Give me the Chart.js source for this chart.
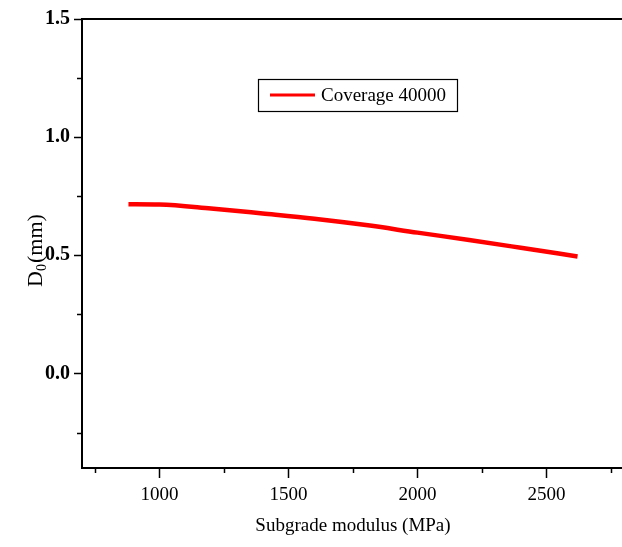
<!DOCTYPE html>
<html>
<head>
<meta charset="utf-8">
<script src="https://cdn.jsdelivr.net/npm/chart.js@4.4.1/dist/chart.umd.min.js"></script>
<style>
  html, body { margin: 0; padding: 0; background: #fff; overflow: hidden; }
  canvas { display: block; }
</style>
</head>
<body>
<canvas id="c" width="630" height="547"></canvas>
<script>
const modulus = [880, 1000, 1200, 1400, 1600, 1800, 2000, 2200, 2400, 2620];
const deflection = [0.716, 0.715, 0.698, 0.677, 0.655, 0.628, 0.596, 0.565, 0.532, 0.495];
const seriesName = 'Coverage 40000';
const xTicks = [750, 1000, 1250, 1500, 1750, 2000, 2250, 2500, 2750];
const yTicks = [-0.25, 0, 0.25, 0.5, 0.75, 1.0, 1.25, 1.5];

const serif = '"Liberation Serif", "Times New Roman", serif';

// minor ticks, frame, legend box and y title
const extras = {
    id: 'extras',
    afterDraw(chart) {
        const c = chart.ctx, a = chart.chartArea;
        const x = chart.scales.x, y = chart.scales.y;
        c.save();
        c.strokeStyle = '#000';
        c.lineWidth = 2;
        c.beginPath();
        c.moveTo(a.left, a.top); c.lineTo(a.right, a.top); c.lineTo(a.right, a.bottom);
        c.stroke();
        c.lineWidth = 1.5;
        xTicks.filter(v => v % 500 !== 0).forEach(v => {
            const px = Math.round(x.getPixelForValue(v)) + 0.5;
            c.beginPath(); c.moveTo(px, a.bottom); c.lineTo(px, a.bottom + 5); c.stroke();
        });
        yTicks.filter(v => Math.abs(v * 2 - Math.round(v * 2)) > 0.01).forEach(v => {
            const py = Math.round(y.getPixelForValue(v)) + 0.5;
            c.beginPath(); c.moveTo(a.left, py); c.lineTo(a.left - 5, py); c.stroke();
        });

        // legend
        c.lineWidth = 1.2;
        c.strokeRect(258.5, 79.5, 199, 32);
        c.strokeStyle = chart.data.datasets[0].borderColor;
        c.lineWidth = 3;
        c.beginPath(); c.moveTo(270, 95); c.lineTo(315, 95); c.stroke();
        c.fillStyle = '#000';
        c.font = '19px ' + serif;
        c.textBaseline = 'middle';
        c.textAlign = 'left';
        c.fillText(chart.data.datasets[0].label, 321, 96);

        // y axis title with subscript
        c.translate(34, 251);
        c.rotate(-Math.PI / 2);
        c.font = '22px ' + serif;
        const wD = c.measureText('D').width;
        c.font = '14px ' + serif;
        const w0 = c.measureText('0').width;
        c.font = '22px ' + serif;
        const wR = c.measureText('(mm)').width;
        let sx = -(wD + w0 + wR) / 2;
        c.textBaseline = 'alphabetic';
        c.fillText('D', sx, 8);
        c.font = '14px ' + serif;
        c.fillText('0', sx + wD, 12);
        c.font = '22px ' + serif;
        c.fillText('(mm)', sx + wD + w0 + 1, 8);
        c.restore();
    }
};

new Chart(document.getElementById('c'), {
    type: 'line',
    data: {
        datasets: [{
            label: seriesName,
            data: modulus.map((m, i) => ({ x: m, y: deflection[i] })),
            borderColor: '#ff0000',
            borderWidth: 4.5,
            pointRadius: 0,
            tension: 0.4,
            cubicInterpolationMode: 'monotone'
        }]
    },
    options: {
        responsive: false,
        animation: false,
        devicePixelRatio: 1,
        layout: { padding: { top: 19, right: 6, left: 0, bottom: 0 } },
        plugins: { legend: { display: false }, tooltip: { enabled: false } },
        scales: {
            x: {
                type: 'linear',
                min: 700,
                max: 2800,
                afterFit: s => { s.height = 79; },
                afterBuildTicks: s => { s.ticks = xTicks.map(v => ({ value: v })); },
                border: { color: '#000', width: 2 },
                grid: {
                    drawOnChartArea: false,
                    tickLength: 10,
                    tickWidth: 1.5,
                    tickColor: ctx => (ctx.tick && ctx.tick.value % 500 === 0) ? '#000' : 'rgba(0,0,0,0)'
                },
                ticks: {
                    autoSkip: false,
                    maxRotation: 0,
                    padding: 6,
                    color: '#000',
                    font: { family: serif, size: 19 },
                    callback: v => v % 500 === 0 ? String(v) : ''
                },
                title: {
                    display: true,
                    text: 'Subgrade modulus (MPa)',
                    color: '#000',
                    font: { family: serif, size: 19 },
                    padding: { top: 0, bottom: 10 }
                }
            },
            y: {
                type: 'linear',
                min: -0.4,
                max: 1.5,
                afterFit: s => { s.width = 82; },
                afterBuildTicks: s => { s.ticks = yTicks.map(v => ({ value: v })); },
                border: { color: '#000', width: 2 },
                grid: {
                    drawOnChartArea: false,
                    tickLength: 8,
                    tickWidth: 1.5,
                    tickColor: ctx => (ctx.tick && Math.abs(ctx.tick.value * 2 - Math.round(ctx.tick.value * 2)) < 0.01) ? '#000' : 'rgba(0,0,0,0)'
                },
                ticks: {
                    autoSkip: false,
                    padding: 4,
                    color: '#000',
                    font: { family: serif, size: 20, weight: 'bold' },
                    callback: v => Math.abs(v * 2 - Math.round(v * 2)) < 0.01 ? v.toFixed(1) : ''
                }
            }
        }
    },
    plugins: [extras]
});
</script>
</body>
</html>
